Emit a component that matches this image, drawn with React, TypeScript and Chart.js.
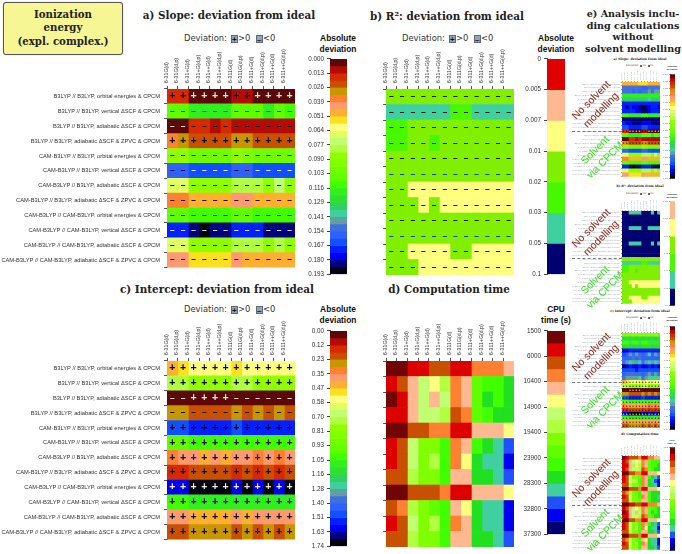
import React, { useEffect, useRef } from "react";
import { Chart, registerables } from "chart.js";

Chart.register(...registerables);

const methods = [
  "B3LYP // B3LYP, orbital energies & CPCM",
  "B3LYP // B3LYP, vertical ΔSCF & CPCM",
  "B3LYP // B3LYP, adiabatic ΔSCF & CPCM",
  "B3LYP // B3LYP, adiabatic ΔSCF & ZPVC & CPCM",
  "CAM-B3LYP // B3LYP, orbital energies & CPCM",
  "CAM-B3LYP // B3LYP, vertical ΔSCF & CPCM",
  "CAM-B3LYP // B3LYP, adiabatic ΔSCF & CPCM",
  "CAM-B3LYP // B3LYP, adiabatic ΔSCF & ZPVC & CPCM",
  "CAM-B3LYP // CAM-B3LYP, orbital energies & CPCM",
  "CAM-B3LYP // CAM-B3LYP, vertical ΔSCF & CPCM",
  "CAM-B3LYP // CAM-B3LYP, adiabatic ΔSCF & CPCM",
  "CAM-B3LYP // CAM-B3LYP, adiabatic ΔSCF & ZPVC & CPCM",
];
const basisSets = ["6-31G(d)", "6-31G(d,p)", "6-31+G(d)", "6-31+G(d,p)", "6-31++G(d)", "6-31++G(d,p)", "6-311G(d)", "6-311G(d,p)", "6-311+G(d)", "6-311+G(d,p)", "6-311++G(d)", "6-311++G(d,p)"];

const palette30 = ["#5c0808", "#b40c04", "#d82a00", "#c85000", "#c89600", "#ff8030", "#ff9a70", "#ffb030", "#ffe020", "#ffff80", "#e0ff60", "#c0ff70", "#b0ff40", "#90ff00", "#80ff00", "#70ff00", "#60ff00", "#40ff00", "#30f020", "#30e030", "#30d060", "#40d0a0", "#60a0a0", "#4070e0", "#3060ff", "#1050ff", "#0020ff", "#0000f0", "#000080", "#000010"];
const palette7 = ["#e00000", "#ffb890", "#ffff80", "#80f000", "#48f800", "#40d0a0", "#000070"];
const palette16 = ["#700505", "#dc0000", "#c85000", "#ff8030", "#ffb890", "#ffff80", "#c0ff70", "#b0ff40", "#80ff00", "#60ff00", "#40ff00", "#20e020", "#40d0a0", "#2050ff", "#0000f0", "#000070"];

const slopeTicks = ["0.000", "0.013", "0.026", "0.039", "0.051", "0.064", "0.077", "0.090", "0.103", "0.116", "0.129", "0.141", "0.154", "0.167", "0.180", "0.193"];
const r2Ticks = ["0", "0.005", "0.007", "0.01", "0.02", "0.03", "0.05", "0.1"];
const interceptTicks = ["0.00", "0.12", "0.23", "0.35", "0.47", "0.58", "0.70", "0.81", "0.93", "1.05", "1.16", "1.28", "1.40", "1.51", "1.63", "1.74"];
const timeTicks = ["1500", "6000", "10400", "14900", "19400", "23900", "28300", "32800", "37300"];

const slopeRows = [
  [2, 2, 0, 0, 0, 0, 1, 1, 0, 0, 0, 0],
  [16, 16, 18, 18, 18, 18, 16, 16, 16, 18, 16, 17],
  [0, 0, 2, 2, 1, 2, 1, 1, 1, 1, 1, 1],
  [5, 4, 3, 3, 3, 3, 4, 4, 3, 3, 3, 3],
  [13, 13, 15, 15, 15, 15, 13, 14, 15, 15, 15, 15],
  [24, 24, 25, 25, 25, 25, 24, 24, 25, 25, 25, 25],
  [10, 10, 13, 13, 13, 13, 12, 12, 12, 13, 11, 13],
  [5, 5, 7, 7, 7, 7, 6, 6, 7, 7, 7, 7],
  [16, 16, 17, 17, 17, 17, 16, 16, 17, 17, 17, 17],
  [26, 26, 28, 29, 28, 28, 26, 26, 26, 28, 28, 28],
  [10, 10, 13, 13, 13, 13, 12, 12, 12, 13, 12, 13],
  [6, 6, 8, 8, 8, 8, 6, 7, 7, 7, 7, 7],
];
const slopeSigns = ["++++++++++++", "------------", "------------", "++++++++++++", "------------", "------------", "------------", "------------", "------------", "------------", "------------", "------------"];
const slopeBlueRows = [1];

const r2Rows = [
  [3, 3, 3, 3, 3, 3, 3, 3, 3, 3, 3, 3],
  [5, 5, 5, 5, 5, 5, 4, 4, 5, 5, 5, 5],
  [4, 4, 3, 3, 3, 3, 3, 3, 3, 3, 3, 3],
  [4, 4, 3, 3, 4, 3, 3, 3, 3, 3, 3, 3],
  [3, 3, 3, 3, 3, 3, 3, 3, 3, 3, 3, 3],
  [3, 3, 3, 3, 3, 3, 3, 3, 3, 3, 3, 3],
  [3, 3, 2, 2, 2, 2, 2, 2, 2, 2, 2, 2],
  [3, 3, 3, 2, 3, 2, 2, 2, 2, 2, 2, 2],
  [3, 3, 3, 3, 3, 3, 3, 3, 3, 3, 3, 3],
  [3, 3, 3, 3, 3, 3, 3, 3, 3, 3, 3, 3],
  [3, 3, 2, 2, 2, 2, 3, 3, 2, 2, 2, 2],
  [3, 3, 3, 2, 2, 2, 2, 2, 2, 2, 2, 2],
];
const r2Signs = ["------------", "------------", "------------", "------------", "------------", "------------", "------------", "------------", "------------", "------------", "------------", "------------"];
const r2BlueRows = [5, 9];

const interceptRows = [
  [7, 8, 9, 9, 9, 9, 8, 9, 9, 9, 9, 9],
  [12, 12, 13, 13, 13, 13, 12, 12, 13, 13, 13, 13],
  [0, 0, 0, 0, 0, 0, 0, 0, 0, 0, 0, 0],
  [4, 4, 3, 3, 3, 3, 4, 3, 4, 3, 4, 3],
  [25, 25, 26, 26, 26, 26, 25, 26, 26, 26, 26, 26],
  [16, 16, 17, 17, 17, 17, 17, 17, 17, 17, 17, 17],
  [5, 6, 6, 7, 6, 7, 6, 6, 5, 6, 5, 6],
  [2, 2, 3, 3, 3, 3, 2, 3, 2, 3, 2, 3],
  [27, 27, 29, 29, 29, 29, 27, 29, 27, 29, 27, 29],
  [17, 17, 18, 18, 18, 18, 18, 18, 18, 18, 18, 18],
  [6, 6, 7, 7, 7, 7, 6, 7, 6, 6, 6, 6],
  [3, 3, 4, 4, 4, 4, 3, 4, 3, 4, 3, 4],
];
const interceptSigns = ["++++++++++++", "++++++++++++", "--++++------", "------------", "++++++++++++", "++++++++++++", "++++++++++++", "++++++++++++", "++++++++++++", "++++++++++++", "++++++++++++", "++++++++++++"];

const timeRows = [
  [0, 0, 1, 1, 2, 2, 1, 1, 3, 3, 3, 4],
  [1, 2, 4, 6, 5, 7, 3, 4, 9, 10, 10, 11],
  [0, 1, 4, 6, 4, 6, 3, 4, 9, 11, 10, 11],
  [1, 1, 4, 6, 6, 7, 2, 3, 9, 10, 11, 11],
  [0, 0, 2, 2, 3, 3, 1, 1, 4, 4, 4, 5],
  [1, 2, 6, 8, 8, 10, 3, 4, 10, 11, 12, 13],
  [1, 2, 6, 8, 7, 10, 3, 5, 11, 12, 12, 14],
  [2, 2, 7, 8, 8, 10, 4, 4, 11, 11, 12, 13],
  [0, 0, 2, 2, 2, 3, 1, 1, 4, 4, 4, 5],
  [2, 3, 7, 8, 9, 10, 4, 5, 11, 12, 12, 14],
  [1, 2, 6, 8, 7, 10, 3, 4, 11, 12, 12, 14],
  [2, 2, 7, 8, 8, 10, 4, 4, 11, 11, 12, 13],
];

const slopeGasRows = [
  [7, 7, 7, 7, 7, 8, 8, 8, 7, 7, 7, 7],
  [23, 23, 23, 23, 23, 23, 24, 24, 23, 23, 23, 23],
  [23, 23, 23, 24, 23, 24, 23, 23, 22, 23, 22, 22],
  [18, 18, 18, 18, 18, 18, 18, 18, 18, 18, 18, 18],
  [20, 20, 20, 20, 20, 20, 20, 20, 21, 20, 20, 20],
  [26, 26, 26, 26, 26, 26, 26, 26, 26, 26, 26, 26],
  [26, 28, 26, 27, 27, 28, 29, 28, 27, 26, 26, 27],
  [26, 26, 26, 26, 27, 27, 28, 28, 27, 26, 26, 26],
  [17, 17, 18, 18, 18, 18, 17, 17, 18, 18, 18, 18],
  [28, 28, 28, 28, 28, 28, 28, 28, 28, 28, 28, 28],
  [26, 27, 27, 28, 28, 28, 27, 27, 27, 28, 28, 28],
  [25, 25, 26, 26, 26, 26, 25, 25, 26, 26, 26, 26],
];
const r2GasRows = [
  [6, 6, 5, 5, 5, 5, 6, 6, 6, 5, 6, 5],
  [6, 6, 6, 6, 6, 6, 6, 6, 6, 6, 6, 6],
  [6, 6, 6, 6, 6, 6, 6, 6, 6, 6, 6, 6],
  [6, 6, 6, 6, 6, 6, 6, 6, 6, 6, 6, 6],
  [6, 6, 5, 5, 5, 5, 6, 6, 5, 5, 5, 5],
  [6, 6, 6, 6, 6, 6, 6, 6, 6, 6, 6, 6],
  [6, 6, 6, 6, 6, 6, 6, 6, 6, 6, 6, 6],
  [6, 6, 6, 6, 6, 6, 6, 6, 6, 6, 6, 6],
  [6, 6, 5, 5, 5, 5, 6, 6, 6, 5, 6, 5],
  [6, 6, 6, 6, 6, 6, 6, 6, 6, 6, 6, 6],
  [6, 6, 6, 6, 6, 6, 6, 6, 6, 6, 6, 6],
  [6, 6, 6, 6, 6, 6, 6, 6, 6, 6, 6, 6],
];
const interceptGasRows = [
  [14, 14, 14, 13, 14, 13, 14, 14, 13, 14, 13, 14],
  [20, 19, 20, 19, 20, 19, 20, 19, 20, 19, 20, 19],
  [17, 17, 18, 17, 17, 18, 17, 17, 18, 18, 18, 18],
  [19, 19, 20, 20, 19, 20, 19, 19, 19, 20, 19, 19],
  [27, 27, 26, 26, 26, 26, 26, 26, 26, 26, 26, 26],
  [25, 24, 22, 23, 22, 23, 24, 23, 21, 24, 22, 23],
  [24, 24, 24, 23, 24, 23, 24, 24, 24, 24, 24, 24],
  [23, 22, 21, 20, 22, 21, 23, 22, 21, 22, 21, 22],
  [28, 27, 26, 27, 27, 26, 27, 27, 26, 27, 26, 27],
  [25, 25, 25, 25, 26, 25, 25, 25, 25, 25, 25, 25],
  [24, 23, 23, 23, 23, 23, 24, 23, 22, 23, 22, 23],
  [23, 22, 22, 22, 22, 21, 23, 22, 21, 21, 21, 21],
];
const timeGasRows = [
  [0, 1, 2, 2, 2, 3, 1, 1, 3, 3, 4, 4],
  [1, 2, 4, 6, 5, 6, 3, 4, 9, 10, 10, 10],
  [1, 1, 4, 7, 5, 7, 3, 4, 9, 10, 10, 11],
  [1, 2, 4, 6, 6, 7, 2, 3, 9, 10, 11, 11],
  [0, 0, 2, 2, 3, 3, 1, 1, 4, 4, 4, 5],
  [1, 2, 6, 8, 8, 9, 3, 4, 10, 11, 12, 13],
  [1, 2, 6, 7, 7, 10, 3, 4, 11, 12, 13, 14],
  [2, 2, 7, 8, 8, 9, 3, 4, 11, 11, 12, 14],
  [0, 0, 2, 2, 2, 3, 1, 1, 4, 4, 4, 5],
  [2, 3, 7, 8, 9, 10, 4, 4, 10, 11, 11, 11],
  [1, 2, 6, 8, 8, 10, 3, 4, 10, 11, 11, 12],
  [2, 2, 7, 8, 8, 9, 4, 4, 10, 11, 11, 11],
];
const gasSigns = ["------------", "------------", "------------", "------------", "------------", "------------", "------------", "------------", "------------", "------------", "------------", "------------"];

const SANS = '"Liberation Sans", Arial, sans-serif';
const SERIF = '"DejaVu Serif", serif';
const DEJAVU = '"DejaVu Sans", sans-serif';
const TEXT = "#333";

type HeatOpts = {
  rows: number[][];
  palette: string[];
  signs?: string[];
  blueRows?: number[];
  labels: string[];
  yw: number;
  xh: number;
  yFont: number;
  xFont: number;
  signFont?: number;
  tick: number;
  color: string;
  noY?: boolean;
};

function heatConfig(o: HeatOpts): any {
  const signPlugin = {
    id: "cellSigns",
    afterDatasetsDraw(chart: any) {
      if (!o.signs) return;
      const ctx = chart.ctx;
      ctx.save();
      ctx.textAlign = "center";
      ctx.textBaseline = "middle";
      const size = o.signFont || 10;
      chart.data.datasets.forEach((_: any, c: number) => {
        const meta = chart.getDatasetMeta(c);
        meta.data.forEach((el: any, r: number) => {
          const ch = o.signs![r] ? o.signs![r][c] : "";
          if (!ch) return;
          const level = o.rows[r][c];
          const dark = o.palette.length === 30 && (level === 0 || level >= 27 || (level >= 25 && ch === "-"));
          ctx.fillStyle = dark ? "#f4ecd8" : o.blueRows && o.blueRows.includes(r) ? "#0a3cc0" : "#000";
          ctx.font = `bold ${ch === "+" ? size : size * 0.8}px ${SANS}`;
          ctx.fillText(ch === "+" ? "+" : "–", (el.x + el.base) / 2, el.y);
        });
      });
      ctx.restore();
    },
  };
  return {
    type: "bar",
    data: {
      labels: o.labels,
      datasets: basisSets.map((b, c) => ({
        label: b,
        data: o.rows.map(() => 1),
        backgroundColor: o.rows.map((r) => o.palette[r[c]]),
        borderWidth: 0,
        barPercentage: 1,
        categoryPercentage: 1,
      })),
    },
    plugins: [signPlugin],
    options: {
      indexAxis: "y",
      responsive: false,
      animation: false,
      events: [],
      devicePixelRatio: 1,
      layout: { padding: 0, autoPadding: false },
      plugins: { legend: { display: false }, tooltip: { enabled: false }, title: { display: false } },
      scales: {
        x: { type: "linear", display: false, stacked: true, min: 0, max: basisSets.length },
        xTop: {
          type: "category",
          labels: basisSets,
          position: "top",
          offset: true,
          afterFit: (s: any) => { s.height = o.xh; },
          border: { color: "#777", width: 1 },
          grid: { offset: true, drawOnChartArea: false, tickLength: o.tick, color: "#555", lineWidth: o.tick > 2 ? 1 : 0.5 },
          ticks: { autoSkip: false, minRotation: 90, maxRotation: 90, padding: o.tick > 2 ? 3 : 1, font: { family: SANS, size: o.xFont }, color: o.color },
        },
        y: {
          type: "category",
          stacked: true,
          afterFit: (s: any) => { s.width = o.yw; },
          border: { color: "#777", width: 1 },
          grid: { offset: true, drawOnChartArea: false, tickLength: o.tick, color: "#555", lineWidth: o.tick > 2 ? 1 : 0.5 },
          ticks: { display: !o.noY, autoSkip: false, padding: o.tick > 2 ? 4 : 1, font: { family: SANS, size: o.yFont }, color: o.color },
        },
      },
    },
  };
}

type BarOpts = { palette: string[]; ticks: string[]; every: number; font: number; tick: number; yw: number; pad: number; color: string };

function barConfig(o: BarOpts): any {
  return {
    type: "bar",
    data: {
      labels: [""],
      datasets: o.palette.map((col, i) => ({
        label: String(i),
        data: [1],
        backgroundColor: col,
        borderWidth: 0,
        barPercentage: 1,
        categoryPercentage: 1,
      })),
    },
    options: {
      responsive: false,
      animation: false,
      events: [],
      devicePixelRatio: 1,
      layout: { padding: { top: o.pad, bottom: o.pad }, autoPadding: false },
      plugins: { legend: { display: false }, tooltip: { enabled: false }, title: { display: false } },
      scales: {
        x: { stacked: true, display: false },
        y: {
          type: "linear",
          stacked: true,
          reverse: true,
          min: 0,
          max: o.palette.length,
          afterFit: (s: any) => { s.width = o.yw; },
          border: { color: "#555", width: o.tick > 2 ? 1 : 0.5 },
          grid: { drawOnChartArea: false, tickLength: o.tick, color: "#444", lineWidth: o.tick > 2 ? 1 : 0.5 },
          ticks: {
            stepSize: o.every,
            autoSkip: false,
            padding: o.tick > 2 ? 3 : 1,
            font: { family: SANS, size: o.font },
            color: o.color,
            callback: (v: number) => o.ticks[Math.round(v / o.every)],
          },
        },
      },
    },
  };
}

function ChartBox({ x, y, w, h, config }: { x: number; y: number; w: number; h: number; config: () => any }) {
  const ref = useRef<HTMLCanvasElement>(null);
  useEffect(() => {
    const c = new Chart(ref.current as HTMLCanvasElement, config());
    return () => c.destroy();
  }, []);
  return <canvas ref={ref} width={w} height={h} style={{ position: "absolute", left: x, top: y, width: w, height: h, display: "block" }} />;
}

function Heat({ x, y, w, h, yw, xh, ...o }: any) {
  return <ChartBox x={x - yw} y={y - xh} w={w + yw} h={h + xh} config={() => heatConfig({ ...o, yw, xh })} />;
}

function ColorBar({ x, y, w, h, yw, pad, ...o }: any) {
  return <ChartBox x={x - yw} y={y - pad} w={w + yw} h={h + 2 * pad} config={() => barConfig({ ...o, yw, pad })} />;
}

function T({ x, y, size, children, bold, family, color, anchor, lh }: any) {
  const tr = anchor === "start" ? "translate(0,-50%)" : "translate(-50%,-50%)";
  return (
    <div style={{ position: "absolute", left: x, top: y, transform: tr, fontSize: size, fontWeight: bold ? 700 : 400, fontFamily: family || SANS, color: color || "#222", whiteSpace: "pre", lineHeight: lh || 1.15, textAlign: "center" }}>
      {children}
    </div>
  );
}

function Legend({ x, y, k = 1, color = "#333" }: any) {
  const box = (bx: number, s: string) => (
    <div style={{ position: "absolute", left: x + bx * k, top: y - 4 * k, width: 6.5 * k, height: 8 * k, background: "#8ea6b6", border: `${0.4 * k}px solid #667`, boxSizing: "border-box", color: "#111", fontFamily: SANS, fontWeight: 700, fontSize: 8 * k, lineHeight: `${7 * k}px`, textAlign: "center" }}>
      {s}
    </div>
  );
  return (
    <>
      <T x={x} y={y} size={8.4 * k} family={DEJAVU} color={color} anchor="start">Deviation:</T>
      {box(47, "+")}
      <T x={x + 54 * k} y={y} size={8.4 * k} family={DEJAVU} color={color} anchor="start">{">0"}</T>
      {box(72, "–")}
      <T x={x + 79 * k} y={y} size={8.4 * k} family={DEJAVU} color={color} anchor="start">{"<0"}</T>
    </>
  );
}

function Rot({ x, y, color, children }: any) {
  return (
    <div style={{ position: "absolute", left: x, top: y, transform: "translate(-50%,-50%) rotate(-45deg)", fontFamily: SANS, fontSize: 10.5, lineHeight: 1.3, color, textAlign: "center", whiteSpace: "pre" }}>
      {children}
    </div>
  );
}

function Dash({ y }: { y: number }) {
  return <div style={{ position: "absolute", left: 572, top: y, width: 50, borderTop: "1px dashed #778" }} />;
}

const thumbLabels = [...methods, ...methods];
const thumbText = "#9aa3ad";

export default function App() {
  const main = { w: 128, h: 186, yw: 167, xh: 60, yFont: 5.72, xFont: 5.2, signFont: 10.5, tick: 3, labels: methods, color: TEXT };
  const plain = { ...main, yw: 4, noY: true };
  const thumb = { w: 38, yw: 50, xh: 11, yFont: 2, xFont: 1.6, signFont: 2.6, tick: 1, labels: thumbLabels, color: thumbText };
  const bar = { tick: 3, font: 6.3, yw: 30, pad: 6, color: TEXT };
  const tbar = { tick: 1, font: 2, yw: 10, pad: 2, color: "#667" };
  return (
    <div style={{ position: "fixed", left: 0, top: 0, width: 682, height: 554, overflow: "hidden", background: "#fff" }}>
      <div style={{ position: "absolute", left: 3, top: 2, width: 120, height: 53, boxSizing: "border-box", background: "#f6f694", border: "1px solid #555", borderRadius: 3, boxShadow: "0 0 1px #888" }} />
      <T x={63} y={28} size={10.2} bold family={SERIF} lh={1.3}>{"Ionization\nenergy\n(expl. complex.)"}</T>

      <T x={229} y={16} size={10.4} bold family={SERIF}>a) Slope: deviation from ideal</T>
      <T x={447} y={17} size={10.4} bold family={SERIF}>b) R²: deviation from ideal</T>
      <T x={217} y={290} size={10.4} bold family={SERIF}>c) Intercept: deviation from ideal</T>
      <T x={449} y={290} size={10.4} bold family={SERIF}>d) Computation time</T>
      <T x={633} y={31} size={9.6} bold family={SERIF} lh={1.2}>{"e) Analysis inclu-\nding calculations\nwithout\nsolvent modelling"}</T>

      <Legend x={184} y={39} />
      <Legend x={402} y={39} />
      <Legend x={184} y={310} />

      <T x={338} y={43} size={8.4} bold lh={1.25} color="#111">{"Absolute\ndeviation"}</T>
      <T x={556} y={43} size={8.4} bold lh={1.25} color="#111">{"Absolute\ndeviation"}</T>
      <T x={338} y={314} size={8.4} bold lh={1.25} color="#111">{"Absolute\ndeviation"}</T>
      <T x={556} y={314} size={8.4} bold lh={1.25} color="#111">{"CPU\ntime (s)"}</T>

      <Heat x={167} y={89} {...main} rows={slopeRows} palette={palette30} signs={slopeSigns} blueRows={slopeBlueRows} />
      <Heat x={386} y={89} {...plain} rows={r2Rows} palette={palette7} signs={r2Signs} blueRows={r2BlueRows} />
      <Heat x={167} y={361} {...main} rows={interceptRows} palette={palette30} signs={interceptSigns} />
      <Heat x={386} y={361} {...plain} rows={timeRows} palette={palette16} />

      <ColorBar x={330} y={58} w={17} h={217} {...bar} palette={palette30} ticks={slopeTicks} every={2} />
      <ColorBar x={547} y={58} w={18} h={217} {...bar} palette={palette7} ticks={r2Ticks} every={1} />
      <ColorBar x={330} y={330} w={17} h={217} {...bar} palette={palette30} ticks={interceptTicks} every={2} />
      <ColorBar x={547} y={330} w={18} h={205} {...bar} palette={palette16} ticks={timeTicks} every={2} />

      {/* Panel e: small copies */}
      <T x={640} y={60} size={3.2} bold family={SERIF}>a) Slope: deviation from ideal</T>
      <T x={640} y={187} size={3.2} bold family={SERIF}>b) R²: deviation from ideal</T>
      <T x={640} y={312} size={3.2} bold family={SERIF}>c) Intercept: deviation from ideal</T>
      <T x={640} y={435} size={3.2} bold family={SERIF}>d) Computation time</T>
      <Legend x={626} y={66} k={0.3} />
      <Legend x={626} y={194} k={0.3} />
      <Legend x={626} y={318} k={0.3} />
      <T x={672} y={67.5} size={2.5} bold lh={1.25}>{"Absolute\ndeviation"}</T>
      <T x={672} y={196} size={2.5} bold lh={1.25}>{"Absolute\ndeviation"}</T>
      <T x={672} y={319} size={2.5} bold lh={1.25}>{"Absolute\ndeviation"}</T>
      <T x={672} y={442} size={2.5} bold lh={1.25}>{"CPU\ntime (s)"}</T>

      <Heat x={622} y={82} h={97} {...thumb} rows={[...slopeGasRows, ...slopeRows]} palette={palette30} signs={[...gasSigns, ...slopeSigns]} />
      <Heat x={622} y={211} h={95} {...thumb} rows={[...r2GasRows, ...r2Rows]} palette={palette7} signs={[...gasSigns, ...r2Signs]} />
      <Heat x={622} y={333} h={97} {...thumb} rows={[...interceptGasRows, ...interceptRows]} palette={palette30} signs={[...gasSigns, ...interceptSigns]} />
      <Heat x={622} y={456} h={96} {...thumb} rows={[...timeGasRows, ...timeRows]} palette={palette16} />

      <ColorBar x={670} y={74} w={5} h={105} {...tbar} palette={palette30} ticks={slopeTicks} every={2} />
      <ColorBar x={670} y={201} w={5} h={105} {...tbar} palette={palette7.slice(1)} ticks={r2Ticks.slice(1)} every={1} />
      <ColorBar x={670} y={326} w={5} h={104} {...tbar} palette={palette30} ticks={interceptTicks} every={2} />
      <ColorBar x={670} y={447} w={5} h={104} {...tbar} palette={palette16} ticks={timeTicks} every={2} />

      <Dash y={131} />
      <Dash y={258} />
      <Dash y={382} />
      <Dash y={505} />

      <Rot x={596} y={105} color="#8a2a1c">{"No solvent\nmodelling"}</Rot>
      <Rot x={600} y={155} color="#38e020">{"Solvent\nvia CPCM"}</Rot>
      <Rot x={596} y={233} color="#8a2a1c">{"No solvent\nmodelling"}</Rot>
      <Rot x={600} y={285} color="#38e020">{"Solvent\nvia CPCM"}</Rot>
      <Rot x={596} y={357} color="#8a2a1c">{"No solvent\nmodelling"}</Rot>
      <Rot x={600} y={405} color="#38e020">{"Solvent\nvia CPCM"}</Rot>
      <Rot x={596} y={483} color="#8a2a1c">{"No solvent\nmodelling"}</Rot>
      <Rot x={600} y={528} color="#38e020">{"Solvent\nvia CPCM"}</Rot>
    </div>
  );
}
